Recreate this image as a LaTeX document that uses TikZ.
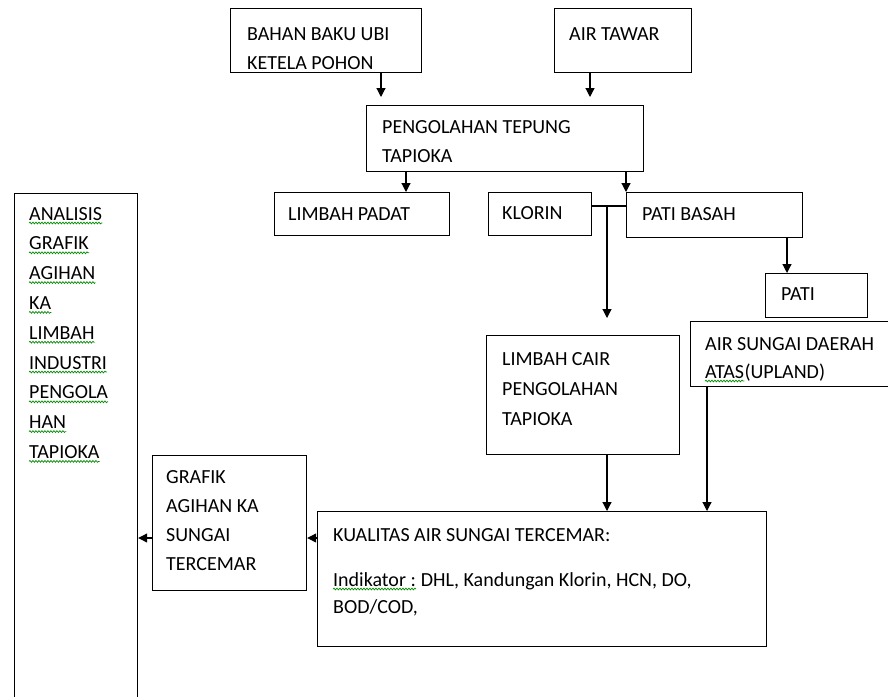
\documentclass[tikz,border=0pt]{standalone}
\usepackage{fontspec}
\setmainfont{Carlito}
\usetikzlibrary{arrows.meta,decorations.pathmorphing}

\tikzset{
  box/.style={draw, line width=1.2pt, anchor=north west, inner sep=0pt},
  txt/.style={anchor=north west, inner sep=0pt, align=left, font=\fontsize{20}{29.5}\selectfont},
  word/.style={txt, anchor=base west},
  link/.style={line width=1.2pt},
  arr/.style={link, -{Triangle[width=9pt,length=9pt]}},
  wave/.style={green!55!black, line width=0.7pt, decorate,
    decoration={snake, amplitude=0.9pt, segment length=3pt}}
}

\begin{document}
\begin{tikzpicture}[x=1pt,y=-1pt]
  \useasboundingbox (0,0) rectangle (888,696);

  % Boxes
  \node[box, minimum width=191pt, minimum height=64pt] (bahan) at (230,8) {};
  \node[box, minimum width=137pt, minimum height=64pt] (airtawar) at (554,8) {};
  \node[box, minimum width=277pt, minimum height=66pt] (pengolahan) at (366,105) {};
  \node[box, minimum width=175pt, minimum height=43pt] (limbahpadat) at (274,192) {};
  \node[box, minimum width=103pt, minimum height=43pt] (klorin) at (488,192) {};
  \node[box, minimum width=176pt, minimum height=45pt] (patibasah) at (626,192) {};
  \node[box, minimum width=102pt, minimum height=44pt] (pati) at (765,273) {};
  \node[box, minimum width=220pt, minimum height=65pt] (airsungai) at (690,321) {};
  \node[box, minimum width=193pt, minimum height=119pt] (limbahcair) at (486,335) {};
  \node[box, minimum width=449pt, minimum height=135pt] (kualitas) at (317,511) {};
  \node[box, minimum width=154pt, minimum height=135pt] (grafik) at (152,455) {};
  \node[box, minimum width=123pt, minimum height=530pt] (analisis) at (14,193) {};

  % Texts
  \node[txt] (bahantxt) at ([shift={(17,19)}]bahan.north west) {BAHAN BAKU UBI\\KETELA POHON};
  \node[txt] (airtawartxt) at ([shift={(15,19)}]airtawar.north west) {AIR TAWAR};
  \node[txt] (pengolahantxt) at ([shift={(16,15)}]pengolahan.north west) {PENGOLAHAN TEPUNG\\TAPIOKA};
  \node[txt] (limbahpadattxt) at ([shift={(14,15)}]limbahpadat.north west) {LIMBAH PADAT};
  \node[txt] (klorintxt) at ([shift={(14,14)}]klorin.north west) {KLORIN};
  \node[txt] (patibasahtxt) at ([shift={(16,15)}]patibasah.north west) {PATI BASAH};
  \node[txt] (patitxt) at ([shift={(16,14)}]pati.north west) {PATI};
  \node[txt] (airsungaitxt) at ([shift={(15,16)}]airsungai.north west) {AIR SUNGAI DAERAH};
  \node[word] (atas) at ([shift={(15,57)}]airsungai.north west) {ATAS};
  \node[word] (upland) at (atas.base east) {(UPLAND)};
  \node[txt, font=\fontsize{20}{30}\selectfont] (limbahcairtxt) at ([shift={(16,17)}]limbahcair.north west)
    {LIMBAH CAIR\\PENGOLAHAN\\TAPIOKA};
  \node[word] (kualitastxt) at ([shift={(16,30)}]kualitas.north west) {KUALITAS AIR SUNGAI TERCEMAR:};
  \node[word] (indikator) at ([shift={(16,75)}]kualitas.north west) {Indikator :};
  \node[word] (indikatorisi) at (indikator.base east) {\ DHL, Kandungan Klorin, HCN, DO,};
  \node[word] (bodcod) at ([shift={(16,102)}]kualitas.north west) {BOD/COD,};
  \node[txt, font=\fontsize{20}{29}\selectfont] (grafiktxt) at ([shift={(14,15)}]grafik.north west)
    {GRAFIK\\AGIHAN KA\\SUNGAI\\TERCEMAR};
  \foreach \w [count=\i] in {ANALISIS,GRAFIK,AGIHAN,KA,LIMBAH,INDUSTRI,PENGOLA,HAN,TAPIOKA} {
    \node[word] (ana\i) at ([shift={(15,{27+29.8*(\i-1)})}]analisis.north west) {\w};
    \draw[wave] ([yshift=-3pt]ana\i.base west) -- ([yshift=-3pt]ana\i.base east);
  }

  % Spell-check waves
  \draw[wave] ([yshift=-3pt]atas.base west) -- ([yshift=-3pt]atas.base east);
  \draw[wave] ([yshift=-3pt]indikator.base west) -- ([yshift=-3pt]indikator.base east);

  % Connectors
  \coordinate (split) at (607,206);
  \draw[arr, shorten >=8pt] (381,0 |- bahan.south) -- (381,0 |- pengolahan.north);
  \draw[arr, shorten >=8pt] (590,0 |- airtawar.south) -- (590,0 |- pengolahan.north);
  \draw[arr] (406,0 |- pengolahan.south) -- (406,0 |- limbahpadat.north);
  \draw[arr] (626,0 |- pengolahan.south) -- (626,0 |- patibasah.north);
  \draw[link] (klorin.east |- split) -- (patibasah.west |- split);
  \draw[arr, shorten >=17pt] (split) -- (split |- limbahcair.north);
  \draw[arr] (787,0 |- patibasah.south) -- (787,0 |- pati.north);
  \draw[arr] (607,0 |- limbahcair.south) -- (607,0 |- kualitas.north);
  \draw[arr] (707,0 |- airsungai.south) -- (707,0 |- kualitas.north);
  \draw[arr] (kualitas.west |- 0,538) -- (grafik.east |- 0,538);
  \draw[arr] (grafik.west |- 0,538) -- (analisis.east |- 0,538);
\end{tikzpicture}
\end{document}
